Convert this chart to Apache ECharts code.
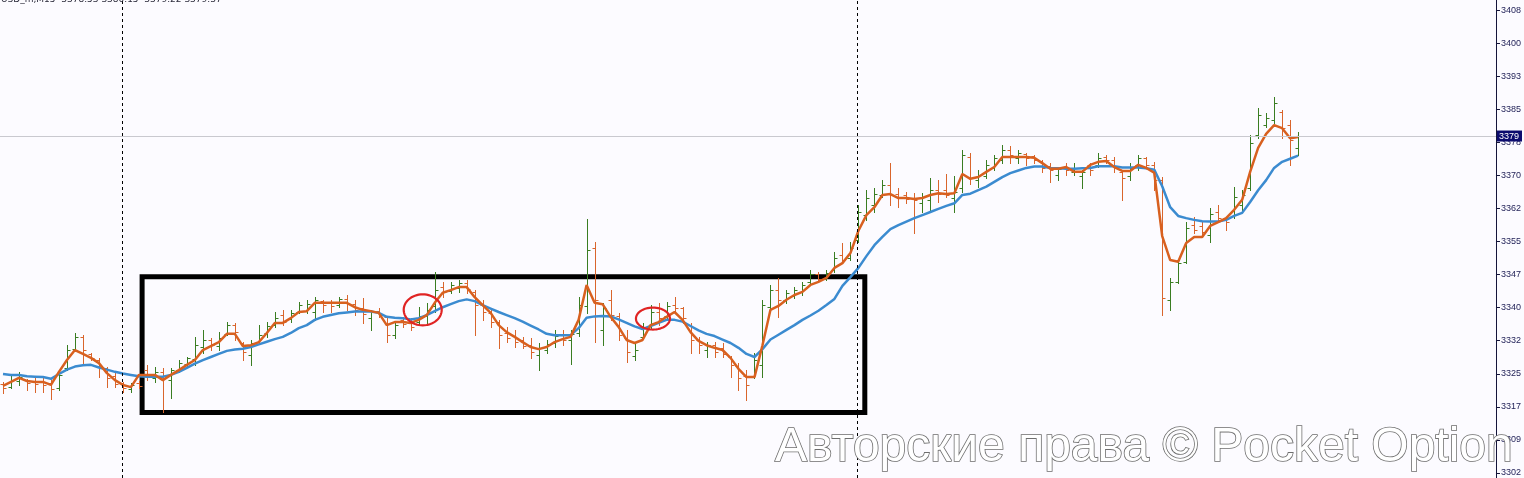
<!DOCTYPE html>
<html>
<head>
<meta charset="utf-8">
<script src="https://cdn.jsdelivr.net/npm/echarts@6/dist/echarts.min.js"></script>
<style>
html,body{margin:0;padding:0;background:#fcfbff;}
#chart{width:1524px;height:478px;}
</style>
</head>
<body>
<div id="chart"></div>
<script>
// ---- data (XAUUSD M15, prices) ----
var open = [3322.7,3322.0,3323.4,3323.6,3323.4,3323.2,3322.9,3321.8,3326.4,3330.7,
3333.5,3329.6,3328.2,3326.4,3324.5,3322.9,3321.6,3322.9,3325.9,3324.1,
3325.5,3323.6,3325.9,3327.3,3328.4,3331.2,3332.8,3331.4,3334.2,3336.2,
3332.1,3329.3,3332.3,3334.4,3336.2,3338.5,3337.6,3339.2,3339.4,3339.2,
3341.7,3341.3,3340.8,3342.2,3341.0,3340.1,3337.8,3339.4,3338.1,3333.9,
3337.4,3336.9,3336.9,3338.3,3340.6,3344.9,3344.0,3344.7,3345.8,3343.8,
3340.8,3339.0,3336.9,3334.4,3333.7,3332.8,3331.6,3329.3,3330.5,3332.1,
3333.9,3332.8,3334.4,3340.6,3353.9,3335.1,3342.0,3338.3,3333.2,3329.1,
3333.5,3336.0,3339.2,3338.3,3340.8,3340.1,3336.2,3332.8,3330.5,3331.6,
3331.0,3328.9,3326.8,3324.5,3324.3,3327.1,3340.3,3344.2,3342.0,3342.9,
3343.8,3346.1,3347.9,3346.8,3348.8,3352.3,3351.6,3355.7,3361.4,3363.7,
3366.0,3368.3,3366.2,3366.0,3365.3,3364.2,3364.9,3367.1,3367.1,3365.3,
3367.6,3374.7,3369.4,3370.4,3372.2,3374.0,3376.3,3374.5,3375.4,3374.9,
3373.8,3372.6,3370.6,3372.2,3371.3,3370.4,3372.9,3372.9,3374.7,3374.0,
3371.3,3370.4,3372.9,3374.5,3372.9,3369.4,3342.0,3346.1,3350.7,3359.1,
3358.9,3356.8,3362.1,3360.7,3361.2,3363.7,3367.6,3379.7,3382.0,3383.2,
3385.0,3382.0,3376.8];
var high = [3323.2,3324.5,3325.5,3323.9,3324.1,3324.1,3323.6,3325.9,3331.6,3334.4,
3333.9,3329.8,3328.7,3326.6,3325.2,3323.2,3322.9,3323.4,3327.1,3326.6,
3326.4,3326.4,3328.2,3328.9,3333.5,3335.1,3333.2,3334.6,3336.9,3336.7,
3332.3,3332.8,3336.2,3336.9,3339.2,3339.7,3339.7,3341.5,3342.0,3342.6,
3342.0,3342.0,3342.6,3343.1,3342.0,3342.4,3339.7,3340.1,3338.3,3336.9,
3338.1,3337.8,3340.3,3341.3,3348.4,3346.1,3346.1,3346.5,3346.5,3344.2,
3342.0,3339.7,3337.4,3335.8,3335.1,3333.5,3333.2,3332.1,3332.8,3335.1,
3335.1,3335.1,3342.6,3360.5,3355.2,3341.3,3344.2,3339.0,3335.1,3332.1,
3336.7,3340.8,3341.3,3341.5,3342.6,3340.3,3336.7,3333.5,3332.3,3332.3,
3332.1,3329.1,3327.5,3325.9,3329.8,3342.0,3345.4,3347.0,3344.2,3344.9,
3346.1,3348.8,3348.4,3348.8,3352.9,3355.0,3355.2,3363.7,3367.1,3367.6,
3369.4,3373.3,3367.6,3366.7,3366.5,3366.5,3369.9,3369.4,3370.8,3370.3,
3376.3,3375.6,3371.7,3374.0,3375.2,3377.4,3377.2,3376.3,3375.6,3375.2,
3374.0,3373.3,3372.4,3373.3,3373.3,3371.7,3373.3,3375.6,3375.2,3374.7,
3371.7,3373.3,3375.2,3374.7,3373.6,3370.1,3347.0,3350.7,3359.8,3360.9,
3359.8,3363.0,3363.7,3360.9,3367.8,3367.1,3379.7,3385.9,3384.8,3388.4,
3385.5,3383.2,3380.4];
var low = [3320.6,3321.8,3322.5,3321.3,3320.9,3320.9,3319.3,3321.3,3325.9,3330.5,
3327.5,3328.2,3324.3,3322.0,3322.0,3320.9,3320.9,3321.8,3323.6,3323.2,
3316.3,3319.5,3325.5,3326.6,3327.1,3329.8,3330.5,3330.5,3333.9,3332.8,
3328.2,3327.1,3332.1,3333.5,3335.8,3336.2,3336.9,3339.0,3339.0,3337.4,
3339.2,3339.2,3340.3,3339.7,3338.5,3336.7,3335.1,3338.1,3332.3,3333.2,
3335.8,3335.1,3336.2,3336.2,3339.2,3342.6,3343.6,3343.8,3343.6,3333.9,
3337.4,3335.8,3331.0,3332.3,3331.2,3331.0,3328.7,3325.9,3329.8,3331.2,
3331.6,3327.3,3333.7,3339.0,3332.3,3331.6,3337.4,3332.8,3327.8,3328.2,
3333.2,3335.5,3336.2,3337.4,3339.0,3336.7,3329.8,3329.8,3328.9,3328.9,
3328.9,3324.3,3321.3,3319.0,3324.1,3324.3,3339.2,3338.1,3341.3,3342.4,
3343.1,3345.8,3346.1,3346.5,3348.4,3350.4,3351.1,3355.2,3360.3,3362.1,
3365.5,3363.7,3363.2,3364.2,3357.3,3362.1,3362.1,3364.4,3365.5,3362.1,
3366.7,3368.5,3367.8,3369.9,3371.7,3373.3,3373.3,3373.3,3372.9,3373.3,
3371.3,3369.0,3369.4,3370.6,3370.6,3367.6,3370.6,3372.4,3373.3,3371.3,
3364.9,3369.4,3371.7,3372.2,3367.1,3338.5,3339.7,3345.8,3350.4,3357.3,
3356.4,3355.2,3359.8,3358.0,3360.7,3362.6,3367.1,3379.0,3381.6,3382.5,
3379.0,3372.9,3375.2];
var close = [3321.8,3323.6,3324.3,3322.9,3322.7,3322.5,3321.6,3324.8,3330.5,3333.5,
3330.5,3328.7,3326.4,3324.1,3322.7,3321.8,3322.5,3322.3,3324.5,3325.5,
3324.1,3325.9,3327.5,3328.7,3331.6,3332.8,3331.6,3333.2,3336.2,3334.6,
3330.0,3332.1,3333.9,3336.0,3337.8,3336.9,3339.0,3340.8,3341.0,3342.0,
3340.8,3340.6,3342.2,3341.0,3339.7,3338.7,3339.2,3338.5,3333.9,3336.2,
3336.5,3335.8,3338.3,3339.7,3344.2,3343.8,3345.4,3345.8,3344.5,3340.8,
3339.2,3336.9,3333.9,3333.2,3332.3,3331.4,3330.0,3331.0,3331.9,3333.7,
3332.8,3334.2,3340.8,3353.4,3342.0,3340.1,3338.5,3333.9,3330.0,3330.5,
3335.5,3339.2,3337.8,3340.6,3340.1,3337.8,3332.8,3331.6,3331.6,3330.0,
3329.6,3327.1,3324.1,3322.5,3328.2,3340.8,3344.2,3342.0,3343.6,3344.2,
3345.4,3347.9,3346.8,3348.1,3351.6,3351.1,3353.9,3362.1,3365.3,3366.2,
3368.3,3366.0,3365.3,3365.1,3364.9,3365.5,3367.1,3366.2,3366.0,3366.7,
3375.2,3369.9,3370.6,3372.9,3374.5,3376.3,3375.2,3375.6,3374.5,3374.0,
3372.2,3371.7,3372.0,3371.7,3372.2,3371.3,3371.7,3374.5,3374.0,3372.2,
3369.9,3372.2,3374.5,3372.9,3369.4,3342.4,3346.1,3350.4,3358.4,3358.0,
3357.5,3361.6,3360.7,3359.8,3365.5,3366.0,3377.9,3384.3,3383.6,3387.1,
3381.3,3378.6,3379.5];
var maFast = [3322.3,3323.2,3324.1,3323.4,3323.2,3323.2,3322.5,3325.5,3328.2,3330.5,
3329.6,3328.7,3327.5,3325.2,3323.6,3322.5,3322.0,3324.8,3324.8,3324.8,
3323.6,3324.8,3325.9,3327.1,3328.2,3330.5,3331.4,3332.3,3334.2,3334.2,
3331.4,3331.6,3332.3,3334.4,3336.7,3336.7,3337.8,3339.2,3339.4,3341.3,
3341.3,3341.3,3341.3,3341.3,3340.3,3339.7,3339.4,3339.0,3336.2,3336.9,
3336.9,3336.7,3337.4,3338.5,3341.3,3343.6,3344.2,3344.9,3344.9,3342.6,
3340.8,3339.0,3336.2,3334.6,3333.5,3332.3,3331.2,3330.7,3331.2,3332.3,
3333.0,3333.5,3337.4,3345.4,3341.3,3341.0,3338.1,3335.8,3332.8,3332.1,
3332.8,3336.2,3336.9,3338.1,3339.2,3337.4,3334.6,3332.6,3331.6,3331.0,
3330.5,3328.7,3326.2,3324.3,3324.3,3331.6,3339.7,3340.6,3342.0,3343.1,
3343.8,3345.4,3346.1,3347.0,3349.3,3350.4,3352.7,3357.8,3361.4,3363.2,
3366.0,3366.2,3365.3,3365.3,3365.1,3365.3,3366.0,3366.4,3366.2,3366.4,
3370.8,3369.7,3370.1,3371.3,3372.4,3374.7,3374.7,3374.7,3374.7,3374.5,
3373.3,3372.0,3372.0,3372.4,3371.3,3371.3,3372.9,3373.6,3373.8,3372.4,
3371.5,3371.5,3372.9,3372.2,3371.1,3356.6,3351.1,3350.7,3355.0,3356.4,
3356.4,3358.9,3359.8,3360.7,3362.6,3364.9,3371.3,3376.8,3380.0,3382.0,
3381.3,3379.0,3379.3];
var maSlow = [3325.0,3324.8,3324.8,3324.5,3324.4,3324.3,3323.9,3325.0,3326.0,3326.7,
3327.0,3327.1,3326.5,3326.0,3325.5,3325.1,3324.8,3324.5,3324.4,3324.4,
3324.4,3324.8,3325.5,3326.4,3327.4,3328.2,3328.9,3329.6,3330.3,3330.6,
3330.8,3331.2,3331.8,3332.4,3333.0,3333.5,3334.4,3335.5,3336.2,3337.4,
3338.1,3338.5,3338.9,3339.1,3339.3,3339.3,3339.3,3339.0,3338.1,3337.9,
3337.8,3337.5,3337.8,3338.5,3339.4,3340.3,3341.0,3341.7,3342.1,3341.7,
3340.8,3340.0,3339.2,3338.5,3337.8,3337.0,3336.1,3335.2,3334.2,3333.9,
3333.9,3333.9,3335.5,3337.9,3338.2,3338.3,3338.2,3337.5,3336.7,3335.9,
3335.3,3336.0,3336.7,3337.4,3337.4,3337.0,3336.0,3335.0,3334.2,3333.7,
3332.9,3332.1,3331.0,3329.6,3328.9,3330.7,3332.9,3334.0,3335.1,3336.2,
3337.4,3338.4,3339.5,3340.8,3342.2,3345.2,3347.2,3349.3,3352.0,3354.5,
3356.4,3358.2,3359.1,3359.9,3360.7,3361.4,3362.1,3362.8,3363.5,3364.1,
3366.0,3366.3,3367.1,3367.9,3369.0,3370.1,3371.0,3371.6,3372.2,3372.5,
3372.5,3372.2,3372.1,3372.0,3372.0,3372.1,3372.2,3372.6,3372.6,3372.6,
3372.3,3372.3,3372.3,3372.1,3371.8,3368.0,3363.2,3361.2,3360.7,3360.3,
3360.0,3359.9,3359.9,3360.3,3361.2,3361.9,3364.4,3367.1,3369.4,3372.2,
3373.6,3374.3,3375.0];
var tickValues = [3302.35,3309.92,3317.49,3325.06,3332.64,3340.21,3347.78,3355.35,
3362.92,3370.49,3378.06,3385.64,3393.21,3400.78,3408.35];
var tickLabels = ['3302','3309','3317','3325','3332','3340','3347','3355',
'3362','3370','3378','3385','3393','3400','3408'];
var currentPrice = 3379.5, currentLabel = '3379';
var separators = [14.9, 106.9];                 // bar positions of the period separators
var boxFrom = [17.4, 3347.3], boxTo = [107.8, 3316.2];  // highlighted range (bar, price)
var markIdx = [52.5, 81.3], markPrice = [3339.7, 3337.7]; // red circled crossings
var title = 'USD_m,M15  3378.53 3380.15  3379.22 3379.37';
var watermark = 'Авторские права © Pocket Option';

// ---- build ----
var ohlc = open.map(function(o, i){ return [i, o, high[i], low[i], close[i]]; });
var fastData = maFast.map(function(v, i){ return [i, v]; });
var slowData = maSlow.map(function(v, i){ return [i, v]; });
var markData = markIdx.map(function(x, i){ return [x, markPrice[i], i]; });
var GREEN = '#3a7d22', RED = '#d9652c';

var chart = echarts.init(document.getElementById('chart'), null, {renderer:'canvas'});
chart.setOption({
  backgroundColor: '#fcfbff',
  animation: false,
  grid: {left: 0, right: 27, top: 0, bottom: 0},
  xAxis: {type: 'value', min: -0.375, max: 186.75, show: false},
  yAxis: {
    type: 'value', position: 'right', min: 3301.19, max: 3410.65, scale: true,
    axisLine: {show: true, onZero: false, lineStyle: {color: '#14143a', width: 1}},
    axisTick: {show: true, length: 4, inside: false, customValues: tickValues, lineStyle: {color: '#14143a'}},
    axisLabel: {show: true, customValues: tickValues, margin: 5, fontSize: 9,
      fontFamily: 'Liberation Sans', color: '#1e1e55',
      formatter: function(v){ var k = tickValues.indexOf(v); return k >= 0 ? tickLabels[k] : String(Math.floor(v)); }},
    splitLine: {show: false}
  },
  series: [
    {
      type: 'custom', name: 'bars', data: ohlc, clip: true, z: 2,
      encode: {x: 0, y: [1, 2, 3, 4]},
      renderItem: function(params, api){
        var x = api.value(0), o = api.value(1), h = api.value(2), l = api.value(3), c = api.value(4);
        var pH = api.coord([x, h]), pL = api.coord([x, l]), pO = api.coord([x, o]), pC = api.coord([x, c]);
        var col = c >= o ? GREEN : RED;
        var cx = Math.round(pH[0]) + 0.5;
        var st = {stroke: col, lineWidth: 1};
        return {type: 'group', children: [
          {type: 'line', shape: {x1: cx, y1: Math.round(pH[1]), x2: cx, y2: Math.round(pL[1]) + 1}, style: st},
          {type: 'line', shape: {x1: cx - 3, y1: Math.round(pO[1]) + 0.5, x2: cx, y2: Math.round(pO[1]) + 0.5}, style: st},
          {type: 'line', shape: {x1: cx, y1: Math.round(pC[1]) + 0.5, x2: cx + 3, y2: Math.round(pC[1]) + 0.5}, style: st}
        ]};
      },
      markLine: {
        silent: true, symbol: ['none', 'none'], animation: false,
        data: [
          {xAxis: separators[0], lineStyle: {color: '#000', width: 1, type: [3, 3]}, label: {show: false}},
          {xAxis: separators[1], lineStyle: {color: '#000', width: 1, type: [3, 3]}, label: {show: false}},
          {yAxis: currentPrice, lineStyle: {color: '#c9c9cf', width: 1, type: 'solid'},
           label: {show: true, position: 'end', distance: 1, formatter: currentLabel, color: '#ffffff',
             backgroundColor: '#0c0c6e', padding: [1, 3, 1, 2], fontSize: 9, fontFamily: 'Liberation Sans'}}
        ]
      },
      markArea: {
        silent: true,
        itemStyle: {color: 'rgba(0,0,0,0)', borderColor: '#000', borderWidth: 5},
        data: [[{coord: boxFrom}, {coord: boxTo}]]
      }
    },
    {
      type: 'line', name: 'slow', data: slowData, showSymbol: false, z: 3,
      lineStyle: {color: '#3b8bd0', width: 2.5}, itemStyle: {color: '#3b8bd0'}
    },
    {
      type: 'line', name: 'fast', data: fastData, showSymbol: false, z: 4,
      lineStyle: {color: '#d8601f', width: 2.5}, itemStyle: {color: '#d8601f'}
    },
    {
      type: 'custom', name: 'marks', data: markData, z: 6, clip: false,
      renderItem: function(params, api){
        var p = api.coord([api.value(0), api.value(1)]);
        var k = api.value(2);
        var rx = k === 0 ? 19 : 17, ry = k === 0 ? 15.5 : 11;
        var pts = [];
        for (var t = 0; t < 60; t++) {
          var a = t / 60 * Math.PI * 2;
          pts.push([p[0] + rx * Math.cos(a), p[1] + ry * Math.sin(a)]);
        }
        return {type: 'polygon', shape: {points: pts}, style: {fill: 'none', stroke: '#e02424', lineWidth: 2.2}};
      }
    }
  ],
  graphic: [
    {type: 'text', x: 1, y: 0, z: 10,
     style: {text: title, font: '9px "DejaVu Sans"', fill: '#2a2a3a', verticalAlign: 'middle'}},
    {type: 'text', x: 775, y: 448, z: 100,
     style: {text: watermark, font: '48px "Liberation Sans"', fill: '#ffffff', stroke: '#6e6e6e', lineWidth: 1.6,
       verticalAlign: 'middle', shadowColor: 'rgba(0,0,0,0.35)', shadowBlur: 4, shadowOffsetX: 1, shadowOffsetY: 1}}
  ]
});
</script>
</body>
</html>
